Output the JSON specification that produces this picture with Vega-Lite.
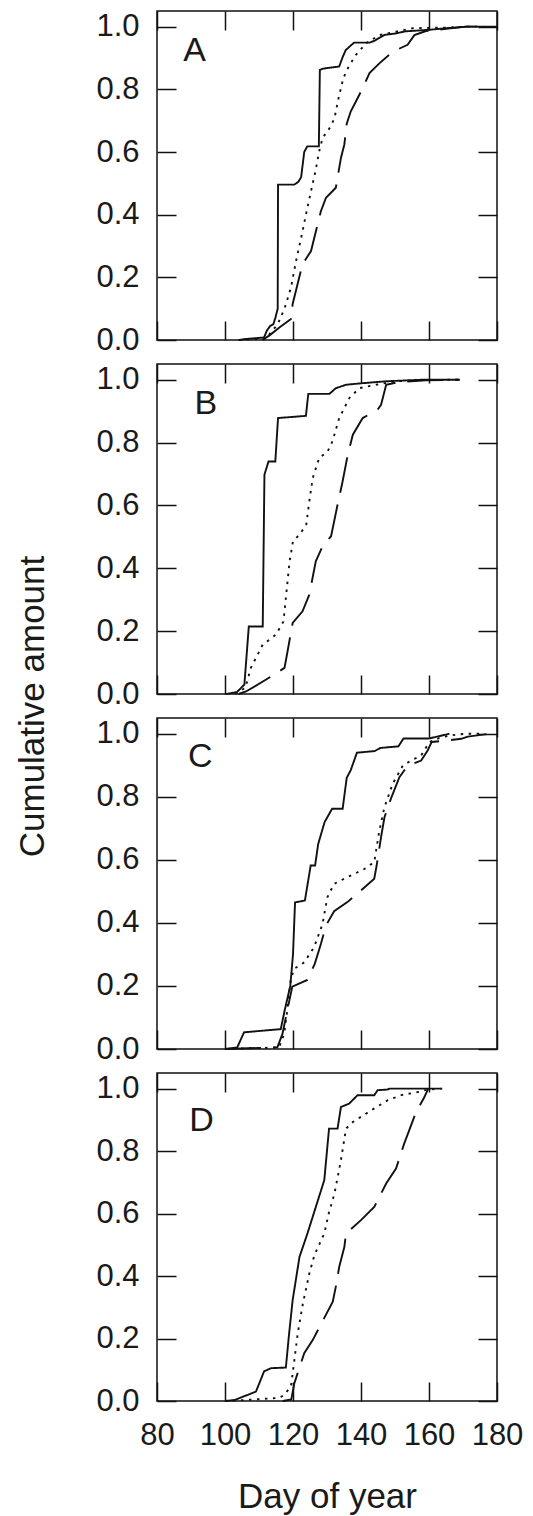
{
  "$schema": "https://vega.github.io/schema/vega-lite/v6.json",
  "background": "white",
  "padding": {"left": 14, "top": 9, "right": 5, "bottom": 5},
  "datasets": {
    "curves": [
      {"panel":"A","series":"solid","day":104,"value":0},{"panel":"A","series":"solid","day":106,"value":0.003},{"panel":"A","series":"solid","day":111.5,"value":0.008},{"panel":"A","series":"solid","day":112.3,"value":0.03},{"panel":"A","series":"solid","day":113.3,"value":0.045},{"panel":"A","series":"solid","day":114.2,"value":0.05},{"panel":"A","series":"solid","day":114.8,"value":0.07},{"panel":"A","series":"solid","day":115.5,"value":0.1},{"panel":"A","series":"solid","day":115.6,"value":0.496},{"panel":"A","series":"solid","day":120.4,"value":0.496},{"panel":"A","series":"solid","day":121.6,"value":0.505},{"panel":"A","series":"solid","day":122.4,"value":0.52},{"panel":"A","series":"solid","day":123.3,"value":0.6},{"panel":"A","series":"solid","day":124.2,"value":0.618},{"panel":"A","series":"solid","day":127.6,"value":0.618},{"panel":"A","series":"solid","day":127.9,"value":0.862},{"panel":"A","series":"solid","day":128.8,"value":0.866},{"panel":"A","series":"solid","day":133.6,"value":0.873},{"panel":"A","series":"solid","day":134.5,"value":0.9},{"panel":"A","series":"solid","day":135.5,"value":0.925},{"panel":"A","series":"solid","day":137,"value":0.94},{"panel":"A","series":"solid","day":138,"value":0.949},{"panel":"A","series":"solid","day":142.5,"value":0.949},{"panel":"A","series":"solid","day":144,"value":0.955},{"panel":"A","series":"solid","day":145,"value":0.962},{"panel":"A","series":"solid","day":147,"value":0.974},{"panel":"A","series":"solid","day":150,"value":0.978},{"panel":"A","series":"solid","day":153,"value":0.985},{"panel":"A","series":"solid","day":160,"value":0.99},{"panel":"A","series":"solid","day":165,"value":0.995},{"panel":"A","series":"solid","day":171,"value":1.0},{"panel":"A","series":"solid","day":180,"value":1.0},
      {"panel":"A","series":"dotted","day":104,"value":0},{"panel":"A","series":"dotted","day":112,"value":0.005},{"panel":"A","series":"dotted","day":115.5,"value":0.05},{"panel":"A","series":"dotted","day":117.5,"value":0.1},{"panel":"A","series":"dotted","day":119.4,"value":0.167},{"panel":"A","series":"dotted","day":120.9,"value":0.252},{"panel":"A","series":"dotted","day":122.4,"value":0.326},{"panel":"A","series":"dotted","day":123.8,"value":0.4},{"panel":"A","series":"dotted","day":125.3,"value":0.475},{"panel":"A","series":"dotted","day":126.6,"value":0.538},{"panel":"A","series":"dotted","day":127.7,"value":0.602},{"panel":"A","series":"dotted","day":128.7,"value":0.645},{"panel":"A","series":"dotted","day":131,"value":0.68},{"panel":"A","series":"dotted","day":132.2,"value":0.708},{"panel":"A","series":"dotted","day":133.4,"value":0.772},{"panel":"A","series":"dotted","day":134.8,"value":0.836},{"panel":"A","series":"dotted","day":136.4,"value":0.873},{"panel":"A","series":"dotted","day":138.5,"value":0.91},{"panel":"A","series":"dotted","day":141.5,"value":0.947},{"panel":"A","series":"dotted","day":145.4,"value":0.973},{"panel":"A","series":"dotted","day":150.3,"value":0.984},{"panel":"A","series":"dotted","day":155.2,"value":0.995},{"panel":"A","series":"dotted","day":165,"value":0.997},{"panel":"A","series":"dotted","day":171,"value":1.0},{"panel":"A","series":"dotted","day":176,"value":1.0},
      {"panel":"A","series":"dashed","day":111,"value":0},{"panel":"A","series":"dashed","day":113,"value":0.014},{"panel":"A","series":"dashed","day":116,"value":0.04},{"panel":"A","series":"dashed","day":119.4,"value":0.067},{"panel":"A","series":"dashed","day":119.9,"value":0.115},{"panel":"A","series":"dashed","day":122.8,"value":0.242},{"panel":"A","series":"dashed","day":125.3,"value":0.284},{"panel":"A","series":"dashed","day":128.2,"value":0.411},{"panel":"A","series":"dashed","day":129.7,"value":0.454},{"panel":"A","series":"dashed","day":132.6,"value":0.486},{"panel":"A","series":"dashed","day":134.1,"value":0.581},{"panel":"A","series":"dashed","day":135.1,"value":0.624},{"panel":"A","series":"dashed","day":135.8,"value":0.69},{"panel":"A","series":"dashed","day":137,"value":0.73},{"panel":"A","series":"dashed","day":138.5,"value":0.761},{"panel":"A","series":"dashed","day":140.5,"value":0.804},{"panel":"A","series":"dashed","day":142.5,"value":0.852},{"panel":"A","series":"dashed","day":145.4,"value":0.883},{"panel":"A","series":"dashed","day":149.3,"value":0.92},{"panel":"A","series":"dashed","day":153.7,"value":0.942},{"panel":"A","series":"dashed","day":155.7,"value":0.973},{"panel":"A","series":"dashed","day":159.1,"value":0.986},{"panel":"A","series":"dashed","day":165,"value":0.993},{"panel":"A","series":"dashed","day":171,"value":1.0},{"panel":"A","series":"dashed","day":176,"value":1.0},

      {"panel":"B","series":"solid","day":100.3,"value":0},{"panel":"B","series":"solid","day":103.5,"value":0.006},{"panel":"B","series":"solid","day":105.7,"value":0.03},{"panel":"B","series":"solid","day":107,"value":0.215},{"panel":"B","series":"solid","day":111.1,"value":0.215},{"panel":"B","series":"solid","day":111.6,"value":0.698},{"panel":"B","series":"solid","day":112.8,"value":0.74},{"panel":"B","series":"solid","day":114.8,"value":0.74},{"panel":"B","series":"solid","day":115.6,"value":0.878},{"panel":"B","series":"solid","day":123.8,"value":0.885},{"panel":"B","series":"solid","day":124.5,"value":0.955},{"panel":"B","series":"solid","day":130.7,"value":0.955},{"panel":"B","series":"solid","day":132.6,"value":0.973},{"panel":"B","series":"solid","day":135.6,"value":0.984},{"panel":"B","series":"solid","day":140.5,"value":0.989},{"panel":"B","series":"solid","day":147.4,"value":0.995},{"panel":"B","series":"solid","day":158.1,"value":1.0},{"panel":"B","series":"solid","day":169,"value":1.0},
      {"panel":"B","series":"dotted","day":103,"value":0},{"panel":"B","series":"dotted","day":106,"value":0.02},{"panel":"B","series":"dotted","day":107.6,"value":0.083},{"panel":"B","series":"dotted","day":111.1,"value":0.157},{"panel":"B","series":"dotted","day":115,"value":0.189},{"panel":"B","series":"dotted","day":117.2,"value":0.231},{"panel":"B","series":"dotted","day":118,"value":0.316},{"panel":"B","series":"dotted","day":119,"value":0.422},{"panel":"B","series":"dotted","day":120,"value":0.486},{"panel":"B","series":"dotted","day":121.9,"value":0.507},{"panel":"B","series":"dotted","day":123.9,"value":0.539},{"panel":"B","series":"dotted","day":124.8,"value":0.613},{"panel":"B","series":"dotted","day":125.8,"value":0.687},{"panel":"B","series":"dotted","day":127.7,"value":0.751},{"panel":"B","series":"dotted","day":130.2,"value":0.772},{"panel":"B","series":"dotted","day":131.6,"value":0.804},{"panel":"B","series":"dotted","day":133.6,"value":0.878},{"panel":"B","series":"dotted","day":136.6,"value":0.942},{"panel":"B","series":"dotted","day":139.5,"value":0.973},{"panel":"B","series":"dotted","day":144.4,"value":0.984},{"panel":"B","series":"dotted","day":150.3,"value":0.995},{"panel":"B","series":"dotted","day":158.1,"value":0.999},{"panel":"B","series":"dotted","day":169,"value":1.0},
      {"panel":"B","series":"dashed","day":104,"value":0},{"panel":"B","series":"dashed","day":106.2,"value":0.008},{"panel":"B","series":"dashed","day":112.1,"value":0.046},{"panel":"B","series":"dashed","day":117.5,"value":0.083},{"panel":"B","series":"dashed","day":118.4,"value":0.136},{"panel":"B","series":"dashed","day":119.9,"value":0.226},{"panel":"B","series":"dashed","day":122.8,"value":0.263},{"panel":"B","series":"dashed","day":124.8,"value":0.316},{"panel":"B","series":"dashed","day":126.7,"value":0.422},{"panel":"B","series":"dashed","day":128.7,"value":0.47},{"panel":"B","series":"dashed","day":131.2,"value":0.502},{"panel":"B","series":"dashed","day":133.1,"value":0.602},{"panel":"B","series":"dashed","day":134.6,"value":0.677},{"panel":"B","series":"dashed","day":136.1,"value":0.761},{"panel":"B","series":"dashed","day":137.6,"value":0.825},{"panel":"B","series":"dashed","day":140.5,"value":0.878},{"panel":"B","series":"dashed","day":144.9,"value":0.905},{"panel":"B","series":"dashed","day":145.9,"value":0.92},{"panel":"B","series":"dashed","day":147.4,"value":0.984},{"panel":"B","series":"dashed","day":151.3,"value":0.993},{"panel":"B","series":"dashed","day":159.1,"value":0.998},{"panel":"B","series":"dashed","day":169,"value":1.0},

      {"panel":"C","series":"solid","day":100,"value":0},{"panel":"C","series":"solid","day":103.6,"value":0.005},{"panel":"C","series":"solid","day":105.6,"value":0.053},{"panel":"C","series":"solid","day":116.4,"value":0.063},{"panel":"C","series":"solid","day":117.5,"value":0.12},{"panel":"C","series":"solid","day":119.2,"value":0.2},{"panel":"C","series":"solid","day":120,"value":0.3},{"panel":"C","series":"solid","day":120.6,"value":0.465},{"panel":"C","series":"solid","day":123.5,"value":0.471},{"panel":"C","series":"solid","day":125.2,"value":0.582},{"panel":"C","series":"solid","day":126.5,"value":0.582},{"panel":"C","series":"solid","day":127.4,"value":0.65},{"panel":"C","series":"solid","day":129.3,"value":0.72},{"panel":"C","series":"solid","day":131.5,"value":0.762},{"panel":"C","series":"solid","day":134.6,"value":0.762},{"panel":"C","series":"solid","day":135.8,"value":0.86},{"panel":"C","series":"solid","day":137,"value":0.885},{"panel":"C","series":"solid","day":138.8,"value":0.94},{"panel":"C","series":"solid","day":144,"value":0.945},{"panel":"C","series":"solid","day":145.7,"value":0.955},{"panel":"C","series":"solid","day":151,"value":0.96},{"panel":"C","series":"solid","day":152.5,"value":0.985},{"panel":"C","series":"solid","day":160,"value":0.985},{"panel":"C","series":"solid","day":162,"value":0.99},{"panel":"C","series":"solid","day":166,"value":1.0},
      {"panel":"C","series":"dotted","day":100,"value":0},{"panel":"C","series":"dotted","day":115.9,"value":0.005},{"panel":"C","series":"dotted","day":117.4,"value":0.048},{"panel":"C","series":"dotted","day":118.3,"value":0.122},{"panel":"C","series":"dotted","day":119.3,"value":0.217},{"panel":"C","series":"dotted","day":120.3,"value":0.254},{"panel":"C","series":"dotted","day":123.3,"value":0.275},{"panel":"C","series":"dotted","day":126.2,"value":0.323},{"panel":"C","series":"dotted","day":128.7,"value":0.397},{"panel":"C","series":"dotted","day":130.1,"value":0.481},{"panel":"C","series":"dotted","day":132.1,"value":0.524},{"panel":"C","series":"dotted","day":136,"value":0.545},{"panel":"C","series":"dotted","day":141,"value":0.571},{"panel":"C","series":"dotted","day":143.9,"value":0.593},{"panel":"C","series":"dotted","day":145.4,"value":0.693},{"panel":"C","series":"dotted","day":146.9,"value":0.767},{"panel":"C","series":"dotted","day":149.3,"value":0.841},{"panel":"C","series":"dotted","day":152.3,"value":0.899},{"panel":"C","series":"dotted","day":154.7,"value":0.915},{"panel":"C","series":"dotted","day":157.7,"value":0.931},{"panel":"C","series":"dotted","day":160.1,"value":0.974},{"panel":"C","series":"dotted","day":163.6,"value":0.989},{"panel":"C","series":"dotted","day":166.5,"value":0.995},{"panel":"C","series":"dotted","day":170.5,"value":1.0},{"panel":"C","series":"dotted","day":175,"value":1.0},
      {"panel":"C","series":"dashed","day":100,"value":0},{"panel":"C","series":"dashed","day":115.4,"value":0.005},{"panel":"C","series":"dashed","day":116.9,"value":0.048},{"panel":"C","series":"dashed","day":118.3,"value":0.122},{"panel":"C","series":"dashed","day":119.8,"value":0.198},{"panel":"C","series":"dashed","day":124.2,"value":0.219},{"panel":"C","series":"dashed","day":126.4,"value":0.27},{"panel":"C","series":"dashed","day":128.2,"value":0.333},{"panel":"C","series":"dashed","day":129.7,"value":0.392},{"panel":"C","series":"dashed","day":132.1,"value":0.437},{"panel":"C","series":"dashed","day":136,"value":0.466},{"panel":"C","series":"dashed","day":140,"value":0.503},{"panel":"C","series":"dashed","day":143.9,"value":0.54},{"panel":"C","series":"dashed","day":144.6,"value":0.582},{"panel":"C","series":"dashed","day":145.9,"value":0.672},{"panel":"C","series":"dashed","day":146.9,"value":0.735},{"panel":"C","series":"dashed","day":148.8,"value":0.794},{"panel":"C","series":"dashed","day":151.3,"value":0.862},{"panel":"C","series":"dashed","day":153.7,"value":0.899},{"panel":"C","series":"dashed","day":157.7,"value":0.915},{"panel":"C","series":"dashed","day":159.6,"value":0.947},{"panel":"C","series":"dashed","day":160.8,"value":0.974},{"panel":"C","series":"dashed","day":165.5,"value":0.979},{"panel":"C","series":"dashed","day":169.5,"value":0.984},{"panel":"C","series":"dashed","day":171.4,"value":0.991},{"panel":"C","series":"dashed","day":176.4,"value":0.998},{"panel":"C","series":"dashed","day":180,"value":1.0},

      {"panel":"D","series":"solid","day":100,"value":0},{"panel":"D","series":"solid","day":102.8,"value":0.003},{"panel":"D","series":"solid","day":109.1,"value":0.03},{"panel":"D","series":"solid","day":111.5,"value":0.095},{"panel":"D","series":"solid","day":113.5,"value":0.105},{"panel":"D","series":"solid","day":117.9,"value":0.107},{"panel":"D","series":"solid","day":118.8,"value":0.21},{"panel":"D","series":"solid","day":119.9,"value":0.323},{"panel":"D","series":"solid","day":121.9,"value":0.461},{"panel":"D","series":"solid","day":124.3,"value":0.538},{"panel":"D","series":"solid","day":129.2,"value":0.707},{"panel":"D","series":"solid","day":130.6,"value":0.872},{"panel":"D","series":"solid","day":133.1,"value":0.872},{"panel":"D","series":"solid","day":134.1,"value":0.941},{"panel":"D","series":"solid","day":136.5,"value":0.952},{"panel":"D","series":"solid","day":139,"value":0.979},{"panel":"D","series":"solid","day":143.9,"value":0.979},{"panel":"D","series":"solid","day":144.9,"value":0.995},{"panel":"D","series":"solid","day":147.7,"value":0.997},{"panel":"D","series":"solid","day":148.5,"value":1.0},{"panel":"D","series":"solid","day":163.4,"value":1.0},
      {"panel":"D","series":"dotted","day":100,"value":0},{"panel":"D","series":"dotted","day":104,"value":0.002},{"panel":"D","series":"dotted","day":116,"value":0.01},{"panel":"D","series":"dotted","day":117.4,"value":0.02},{"panel":"D","series":"dotted","day":119.4,"value":0.046},{"panel":"D","series":"dotted","day":120.4,"value":0.131},{"panel":"D","series":"dotted","day":121.4,"value":0.217},{"panel":"D","series":"dotted","day":122.9,"value":0.312},{"panel":"D","series":"dotted","day":124.8,"value":0.408},{"panel":"D","series":"dotted","day":126.3,"value":0.467},{"panel":"D","series":"dotted","day":129.2,"value":0.536},{"panel":"D","series":"dotted","day":130.5,"value":0.6},{"panel":"D","series":"dotted","day":132.2,"value":0.664},{"panel":"D","series":"dotted","day":134.1,"value":0.771},{"panel":"D","series":"dotted","day":135.6,"value":0.872},{"panel":"D","series":"dotted","day":137.6,"value":0.893},{"panel":"D","series":"dotted","day":142.9,"value":0.93},{"panel":"D","series":"dotted","day":147.9,"value":0.963},{"panel":"D","series":"dotted","day":151.8,"value":0.979},{"panel":"D","series":"dotted","day":156.7,"value":0.989},{"panel":"D","series":"dotted","day":159.6,"value":0.997},{"panel":"D","series":"dotted","day":163.9,"value":1.0},
      {"panel":"D","series":"dashed","day":117,"value":0},{"panel":"D","series":"dashed","day":119.5,"value":0.005},{"panel":"D","series":"dashed","day":120.4,"value":0.057},{"panel":"D","series":"dashed","day":123.3,"value":0.153},{"panel":"D","series":"dashed","day":125.8,"value":0.195},{"panel":"D","series":"dashed","day":131.7,"value":0.318},{"panel":"D","series":"dashed","day":132.6,"value":0.366},{"panel":"D","series":"dashed","day":133.6,"value":0.43},{"panel":"D","series":"dashed","day":135.1,"value":0.493},{"panel":"D","series":"dashed","day":135.6,"value":0.536},{"panel":"D","series":"dashed","day":140,"value":0.579},{"panel":"D","series":"dashed","day":143.9,"value":0.621},{"panel":"D","series":"dashed","day":145.4,"value":0.653},{"panel":"D","series":"dashed","day":147.4,"value":0.696},{"panel":"D","series":"dashed","day":150.3,"value":0.744},{"panel":"D","series":"dashed","day":152.7,"value":0.824},{"panel":"D","series":"dashed","day":154.2,"value":0.867},{"panel":"D","series":"dashed","day":156.2,"value":0.925},{"panel":"D","series":"dashed","day":158.5,"value":0.97},{"panel":"D","series":"dashed","day":159.8,"value":1.0}
    ]
  },
  "spacing": 24,
  "bounds": "flush",
  "vconcat": [
    {
      "width": 340, "height": 329,
      "layer": [
        {
          "data": {"name": "curves"},
          "transform": [{"filter": "datum.panel === 'A'"}],
          "mark": {"type": "line", "color": "#111", "strokeWidth": 1.9},
          "encoding": {
            "x": {"field": "day", "type": "quantitative", "scale": {"domain": [80, 180], "nice": false, "zero": false}, "axis": {"orient": "bottom", "values": [80, 100, 120, 140, 160, 180], "labels": false, "title": null}},
            "y": {"field": "value", "type": "quantitative", "scale": {"domain": [0, 1.05], "nice": false}, "axis": {"orient": "left", "values": [0, 0.2, 0.4, 0.6, 0.8, 1.0], "format": ".1f", "title": null}},
            "strokeDash": {"field": "series", "type": "nominal", "scale": {"domain": ["solid", "dotted", "dashed"], "range": [[1, 0], [2.5, 5.5], [36, 12]]}, "legend": null}
          }
        },
        {
          "data": {"values": [{"label": "A"}]},
          "mark": {"type": "text", "align": "left", "baseline": "alphabetic", "fontSize": 34, "font": "Liberation Sans", "color": "#1a1a1a"},
          "encoding": {
            "x": {"datum": 87.7, "type": "quantitative", "scale": {"domain": [80, 180], "nice": false, "zero": false}, "axis": {"orient": "top", "values": [80, 100, 120, 140, 160, 180], "labels": false, "title": null}},
            "y": {"datum": 0.889, "type": "quantitative", "scale": {"domain": [0, 1.05], "nice": false}, "axis": {"orient": "right", "values": [0, 0.2, 0.4, 0.6, 0.8, 1.0], "labels": false, "title": null}},
            "text": {"field": "label"}
          }
        }
      ],
      "resolve": {"axis": {"x": "independent", "y": "independent"}}
    },
    {
      "width": 340, "height": 330,
      "layer": [
        {
          "data": {"name": "curves"},
          "transform": [{"filter": "datum.panel === 'B'"}],
          "mark": {"type": "line", "color": "#111", "strokeWidth": 1.9},
          "encoding": {
            "x": {"field": "day", "type": "quantitative", "scale": {"domain": [80, 180], "nice": false, "zero": false}, "axis": {"orient": "bottom", "values": [80, 100, 120, 140, 160, 180], "labels": false, "title": null}},
            "y": {"field": "value", "type": "quantitative", "scale": {"domain": [0, 1.05], "nice": false}, "axis": {"orient": "left", "values": [0, 0.2, 0.4, 0.6, 0.8, 1.0], "format": ".1f", "title": "Cumulative amount", "titleFontSize": 35, "titleAngle": 270, "titleAlign": "center", "titleBaseline": "bottom", "titleX": -107, "titleY": 342}},
            "strokeDash": {"field": "series", "type": "nominal", "scale": {"domain": ["solid", "dotted", "dashed"], "range": [[1, 0], [2.5, 5.5], [36, 12]]}, "legend": null}
          }
        },
        {
          "data": {"values": [{"label": "B"}]},
          "mark": {"type": "text", "align": "left", "baseline": "alphabetic", "fontSize": 34, "font": "Liberation Sans", "color": "#1a1a1a"},
          "encoding": {
            "x": {"datum": 91, "type": "quantitative", "scale": {"domain": [80, 180], "nice": false, "zero": false}, "axis": {"orient": "top", "values": [80, 100, 120, 140, 160, 180], "labels": false, "title": null}},
            "y": {"datum": 0.891, "type": "quantitative", "scale": {"domain": [0, 1.05], "nice": false}, "axis": {"orient": "right", "values": [0, 0.2, 0.4, 0.6, 0.8, 1.0], "labels": false, "title": null}},
            "text": {"field": "label"}
          }
        }
      ],
      "resolve": {"axis": {"x": "independent", "y": "independent"}}
    },
    {
      "width": 340, "height": 331,
      "layer": [
        {
          "data": {"name": "curves"},
          "transform": [{"filter": "datum.panel === 'C'"}],
          "mark": {"type": "line", "color": "#111", "strokeWidth": 1.9},
          "encoding": {
            "x": {"field": "day", "type": "quantitative", "scale": {"domain": [80, 180], "nice": false, "zero": false}, "axis": {"orient": "bottom", "values": [80, 100, 120, 140, 160, 180], "labels": false, "title": null}},
            "y": {"field": "value", "type": "quantitative", "scale": {"domain": [0, 1.05], "nice": false}, "axis": {"orient": "left", "values": [0, 0.2, 0.4, 0.6, 0.8, 1.0], "format": ".1f", "title": null}},
            "strokeDash": {"field": "series", "type": "nominal", "scale": {"domain": ["solid", "dotted", "dashed"], "range": [[1, 0], [2.5, 5.5], [36, 12]]}, "legend": null}
          }
        },
        {
          "data": {"values": [{"label": "C"}]},
          "mark": {"type": "text", "align": "left", "baseline": "alphabetic", "fontSize": 34, "font": "Liberation Sans", "color": "#1a1a1a"},
          "encoding": {
            "x": {"datum": 89.1, "type": "quantitative", "scale": {"domain": [80, 180], "nice": false, "zero": false}, "axis": {"orient": "top", "values": [80, 100, 120, 140, 160, 180], "labels": false, "title": null}},
            "y": {"datum": 0.896, "type": "quantitative", "scale": {"domain": [0, 1.05], "nice": false}, "axis": {"orient": "right", "values": [0, 0.2, 0.4, 0.6, 0.8, 1.0], "labels": false, "title": null}},
            "text": {"field": "label"}
          }
        }
      ],
      "resolve": {"axis": {"x": "independent", "y": "independent"}}
    },
    {
      "width": 340, "height": 328,
      "layer": [
        {
          "data": {"name": "curves"},
          "transform": [{"filter": "datum.panel === 'D'"}],
          "mark": {"type": "line", "color": "#111", "strokeWidth": 1.9},
          "encoding": {
            "x": {"field": "day", "type": "quantitative", "scale": {"domain": [80, 180], "nice": false, "zero": false}, "axis": {"orient": "bottom", "values": [80, 100, 120, 140, 160, 180], "labelPadding": 38, "title": "Day of year", "titleFontSize": 35, "titlePadding": 29}},
            "y": {"field": "value", "type": "quantitative", "scale": {"domain": [0, 1.05], "nice": false}, "axis": {"orient": "left", "values": [0, 0.2, 0.4, 0.6, 0.8, 1.0], "format": ".1f", "title": null}},
            "strokeDash": {"field": "series", "type": "nominal", "scale": {"domain": ["solid", "dotted", "dashed"], "range": [[1, 0], [2.5, 5.5], [36, 12]]}, "legend": null}
          }
        },
        {
          "data": {"values": [{"label": "D"}]},
          "mark": {"type": "text", "align": "left", "baseline": "alphabetic", "fontSize": 34, "font": "Liberation Sans", "color": "#1a1a1a"},
          "encoding": {
            "x": {"datum": 89.5, "type": "quantitative", "scale": {"domain": [80, 180], "nice": false, "zero": false}, "axis": {"orient": "top", "values": [80, 100, 120, 140, 160, 180], "labels": false, "title": null}},
            "y": {"datum": 0.864, "type": "quantitative", "scale": {"domain": [0, 1.05], "nice": false}, "axis": {"orient": "right", "values": [0, 0.2, 0.4, 0.6, 0.8, 1.0], "labels": false, "title": null}},
            "text": {"field": "label"}
          }
        }
      ],
      "resolve": {"axis": {"x": "independent", "y": "independent"}}
    }
  ],
  "config": {
    "view": {"stroke": "#111", "strokeWidth": 1.5},
    "axis": {"domain": false, "grid": false, "tickSize": -19, "tickColor": "#111", "tickWidth": 1.5, "labelFont": "Liberation Sans", "labelFontSize": 31, "labelColor": "#1a1a1a", "labelPadding": 37, "labelFlush": false, "labelOverlap": false, "labelBound": false, "titleFont": "Liberation Sans", "titleFontSize": 34, "titleFontWeight": "normal", "titleColor": "#1a1a1a"}
  }
}
